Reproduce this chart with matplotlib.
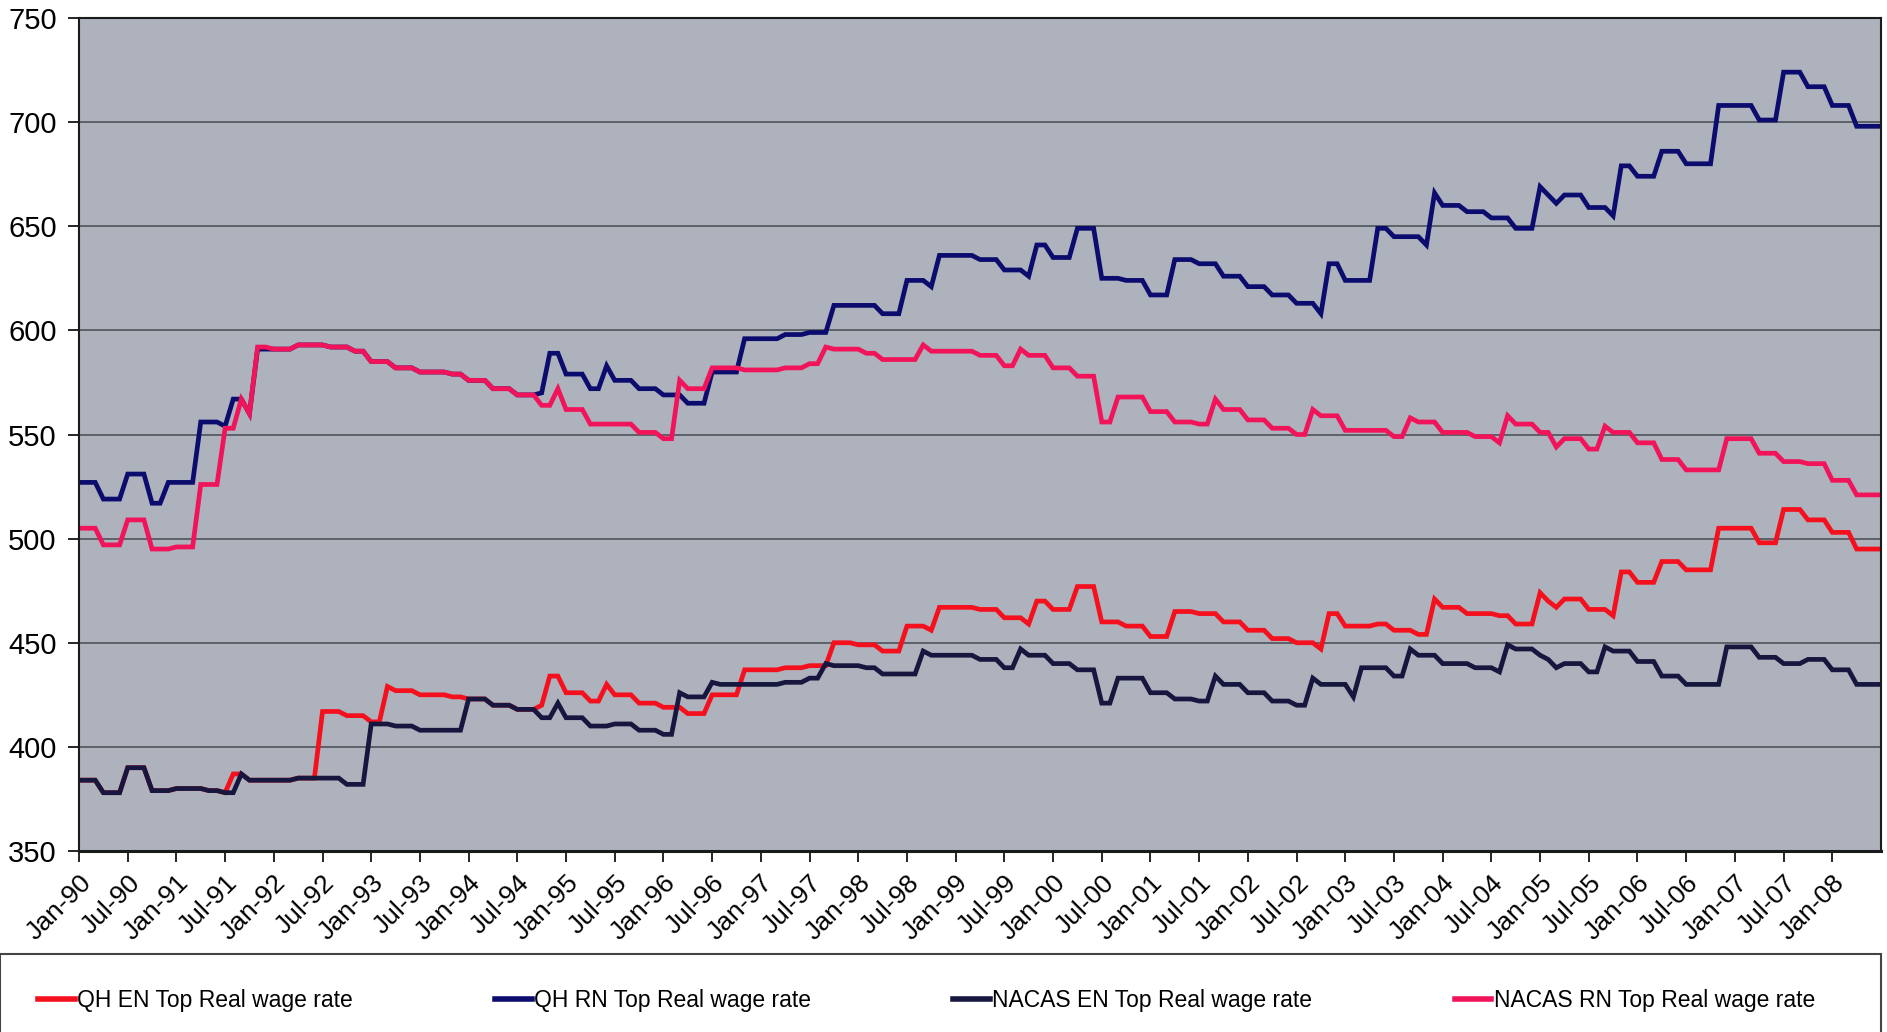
import numpy as np
import pandas as pd
import matplotlib
matplotlib.use("Agg")
from matplotlib import pyplot as plt
from matplotlib.lines import Line2D
from matplotlib.patches import Rectangle

plt.rcParams['font.family'] = ['Liberation Sans', 'DejaVu Sans']

# monthly values, Jan-90 .. Jul-08 (one row per year)
qh_en = [
    384, 384, 384, 378, 378, 378, 390, 390, 390, 379, 379, 379,
    380, 380, 380, 380, 379, 379, 378, 387, 387, 384, 384, 384,
    384, 384, 384, 385, 385, 385, 417, 417, 417, 415, 415, 415,
    412, 412, 429, 427, 427, 427, 425, 425, 425, 425, 424, 424,
    423, 423, 423, 420, 420, 420, 418, 418, 418, 420, 434, 434,
    426, 426, 426, 422, 422, 430, 425, 425, 425, 421, 421, 421,
    419, 419, 419, 416, 416, 416, 425, 425, 425, 425, 437, 437,
    437, 437, 437, 438, 438, 438, 439, 439, 439, 450, 450, 450,
    449, 449, 449, 446, 446, 446, 458, 458, 458, 456, 467, 467,
    467, 467, 467, 466, 466, 466, 462, 462, 462, 459, 470, 470,
    466, 466, 466, 477, 477, 477, 460, 460, 460, 458, 458, 458,
    453, 453, 453, 465, 465, 465, 464, 464, 464, 460, 460, 460,
    456, 456, 456, 452, 452, 452, 450, 450, 450, 447, 464, 464,
    458, 458, 458, 458, 459, 459, 456, 456, 456, 454, 454, 471,
    467, 467, 467, 464, 464, 464, 464, 463, 463, 459, 459, 459,
    474, 470, 467, 471, 471, 471, 466, 466, 466, 463, 484, 484,
    479, 479, 479, 489, 489, 489, 485, 485, 485, 485, 505, 505,
    505, 505, 505, 498, 498, 498, 514, 514, 514, 509, 509, 509,
    503, 503, 503, 495, 495, 495, 495,
]
qh_rn = [
    527, 527, 527, 519, 519, 519, 531, 531, 531, 517, 517, 527,
    527, 527, 527, 556, 556, 556, 554, 567, 567, 560, 591, 591,
    591, 591, 591, 593, 593, 593, 593, 592, 592, 592, 590, 590,
    585, 585, 585, 582, 582, 582, 580, 580, 580, 580, 579, 579,
    576, 576, 576, 572, 572, 572, 569, 569, 569, 570, 589, 589,
    579, 579, 579, 572, 572, 583, 576, 576, 576, 572, 572, 572,
    569, 569, 569, 565, 565, 565, 580, 580, 580, 580, 596, 596,
    596, 596, 596, 598, 598, 598, 599, 599, 599, 612, 612, 612,
    612, 612, 612, 608, 608, 608, 624, 624, 624, 621, 636, 636,
    636, 636, 636, 634, 634, 634, 629, 629, 629, 626, 641, 641,
    635, 635, 635, 649, 649, 649, 625, 625, 625, 624, 624, 624,
    617, 617, 617, 634, 634, 634, 632, 632, 632, 626, 626, 626,
    621, 621, 621, 617, 617, 617, 613, 613, 613, 608, 632, 632,
    624, 624, 624, 624, 649, 649, 645, 645, 645, 645, 641, 666,
    660, 660, 660, 657, 657, 657, 654, 654, 654, 649, 649, 649,
    669, 665, 661, 665, 665, 665, 659, 659, 659, 655, 679, 679,
    674, 674, 674, 686, 686, 686, 680, 680, 680, 680, 708, 708,
    708, 708, 708, 701, 701, 701, 724, 724, 724, 717, 717, 717,
    708, 708, 708, 698, 698, 698, 698,
]
nacas_en = [
    384, 384, 384, 378, 378, 378, 390, 390, 390, 379, 379, 379,
    380, 380, 380, 380, 379, 379, 378, 378, 387, 384, 384, 384,
    384, 384, 384, 385, 385, 385, 385, 385, 385, 382, 382, 382,
    411, 411, 411, 410, 410, 410, 408, 408, 408, 408, 408, 408,
    423, 423, 423, 420, 420, 420, 418, 418, 418, 414, 414, 421,
    414, 414, 414, 410, 410, 410, 411, 411, 411, 408, 408, 408,
    406, 406, 426, 424, 424, 424, 431, 430, 430, 430, 430, 430,
    430, 430, 430, 431, 431, 431, 433, 433, 440, 439, 439, 439,
    439, 438, 438, 435, 435, 435, 435, 435, 446, 444, 444, 444,
    444, 444, 444, 442, 442, 442, 438, 438, 447, 444, 444, 444,
    440, 440, 440, 437, 437, 437, 421, 421, 433, 433, 433, 433,
    426, 426, 426, 423, 423, 423, 422, 422, 434, 430, 430, 430,
    426, 426, 426, 422, 422, 422, 420, 420, 433, 430, 430, 430,
    430, 424, 438, 438, 438, 438, 434, 434, 447, 444, 444, 444,
    440, 440, 440, 440, 438, 438, 438, 436, 449, 447, 447, 447,
    444, 442, 438, 440, 440, 440, 436, 436, 448, 446, 446, 446,
    441, 441, 441, 434, 434, 434, 430, 430, 430, 430, 430, 448,
    448, 448, 448, 443, 443, 443, 440, 440, 440, 442, 442, 442,
    437, 437, 437, 430, 430, 430, 430,
]
nacas_rn = [
    505, 505, 505, 497, 497, 497, 509, 509, 509, 495, 495, 495,
    496, 496, 496, 526, 526, 526, 553, 553, 567, 560, 592, 592,
    591, 591, 591, 593, 593, 593, 593, 592, 592, 592, 590, 590,
    585, 585, 585, 582, 582, 582, 580, 580, 580, 580, 579, 579,
    576, 576, 576, 572, 572, 572, 569, 569, 569, 564, 564, 572,
    562, 562, 562, 555, 555, 555, 555, 555, 555, 551, 551, 551,
    548, 548, 576, 572, 572, 572, 582, 582, 582, 582, 581, 581,
    581, 581, 581, 582, 582, 582, 584, 584, 592, 591, 591, 591,
    591, 589, 589, 586, 586, 586, 586, 586, 593, 590, 590, 590,
    590, 590, 590, 588, 588, 588, 583, 583, 591, 588, 588, 588,
    582, 582, 582, 578, 578, 578, 556, 556, 568, 568, 568, 568,
    561, 561, 561, 556, 556, 556, 555, 555, 567, 562, 562, 562,
    557, 557, 557, 553, 553, 553, 550, 550, 562, 559, 559, 559,
    552, 552, 552, 552, 552, 552, 549, 549, 558, 556, 556, 556,
    551, 551, 551, 551, 549, 549, 549, 546, 559, 555, 555, 555,
    551, 551, 544, 548, 548, 548, 543, 543, 554, 551, 551, 551,
    546, 546, 546, 538, 538, 538, 533, 533, 533, 533, 533, 548,
    548, 548, 548, 541, 541, 541, 537, 537, 537, 536, 536, 536,
    528, 528, 528, 521, 521, 521, 521,
]

series_names = ["QH EN Top Real wage rate", "QH RN Top Real wage rate",
                "NACAS EN Top Real wage rate", "NACAS RN Top Real wage rate"]
series_colors = ["#f5101e", "#0c0c6e", "#16163e", "#f2145a"]

dates = pd.date_range("1990-01-01", periods=len(qh_en), freq="MS")
x = np.arange(len(dates))

W, H = 1887, 1032
fig = plt.figure(figsize=(W / 100, H / 100), dpi=100)
ax = fig.add_axes([79 / W, 1 - 851 / H, (1881 - 79) / W, (851 - 18) / H])
ax.set_facecolor("#adb2bc")

for vals, name, col in zip([qh_en, qh_rn, nacas_en, nacas_rn], series_names, series_colors):
    ax.plot(x, vals, color=col, lw=3.4, solid_joinstyle="miter", label=name)

ax.set_xlim(0, len(x) - 1)
ax.set_ylim(350, 750)
ax.set_yticks(range(350, 751, 50))
ax.yaxis.grid(True, color="#474a50", lw=1.1)
ax.set_axisbelow(True)

tick_pos = x[:217:6]
ax.set_xticks(tick_pos)
ax.set_xticklabels([dates[i].strftime("%b-%y") for i in tick_pos],
                   rotation=45, ha="right", rotation_mode="anchor", fontsize=19)
ax.tick_params(axis="x", length=8, width=1.2, direction="out", pad=6)
ax.tick_params(axis="y", length=8, width=1.2, direction="out", labelsize=21, pad=8)
for s in ax.spines.values():
    s.set_color("#1a1a1a")
    s.set_linewidth(1.5)
ax.spines["bottom"].set_linewidth(2.2)

# legend box under the chart
fig.add_artist(Rectangle((0.0, -0.05), 1881 / W, (H - 954) / H + 0.05,
                         transform=fig.transFigure, fill=False, ec="#444444", lw=1.5))
handles = [Line2D([], [], color=c, lw=4) for c in series_colors]
fig.legend(handles, series_names, loc="center left",
           bbox_to_anchor=(38 / W, 1 - 1001 / H, (1815 - 38) / W, 0),
           mode="expand", ncol=4, frameon=False, handlelength=1.6,
           handletextpad=0.1, fontsize=16.5, borderaxespad=0, borderpad=0)

fig.savefig("out.png", dpi=100, facecolor="white")
